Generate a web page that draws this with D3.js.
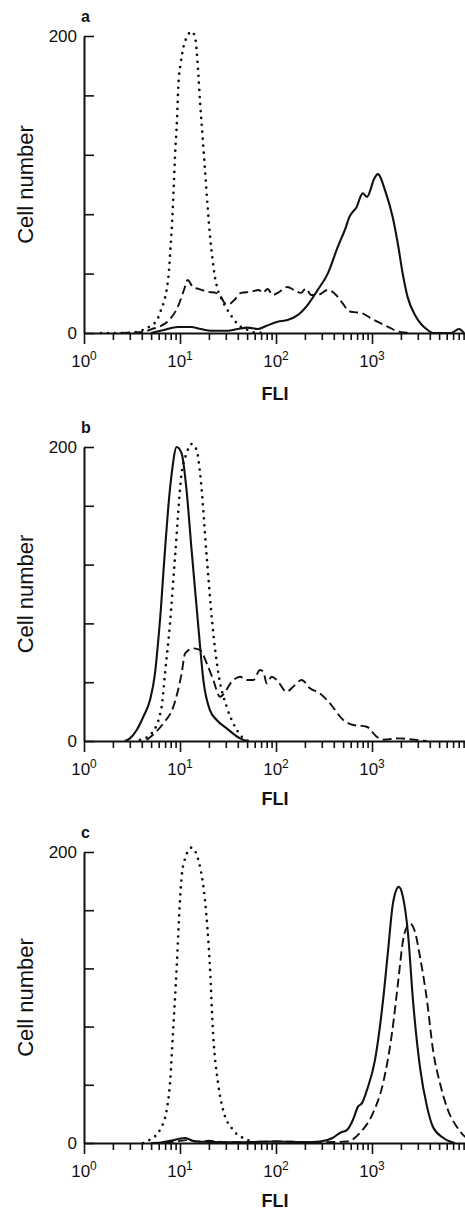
<!DOCTYPE html>
<html>
<head>
<meta charset="utf-8">
<script src="https://cdn.jsdelivr.net/npm/d3@7"></script>
<style>
  body { margin: 0; background: #fff; }
  svg { display: block; }
  text { font-family: "Liberation Sans", Arial, sans-serif; fill: #111; }
</style>
</head>
<body>
<svg id="chart" width="465" height="1211"></svg>
<script>
// values: [FLI, cell number]

// panel a
const aSolid = [[5.0,0],[6.8,2],[9.5,4],[13.0,4],[16.5,2.7],[21.0,1.5],[31.4,1.5],[39.9,2.7],[50.7,3.6],[64.4,2.7],[78.7,4.7],[104,7.6],[132,8.7],[168,12],[214,19],[272,29],[346,40],[440,58],[536,71.5],[580,78],[630,81.6],[681,84],[800,94],[887,91.7],[1057,104],[1146,107],[1400,94],[1644,78],[1853,60.6],[2088,40],[2355,24],[2873,11],[3802,2],[4318,0],[6653,0],[8054,2.7],[9087,0]];
const aDashed = [[2.4,0],[4.2,0.7],[5.0,2.5],[6.3,4.7],[7.7,8.7],[9.5,17.7],[11.0,29],[12.0,35.7],[13.6,31],[15.8,29.6],[19.4,27.8],[23.7,27],[26.7,24.4],[29.4,20],[32.4,19.5],[36.5,22],[43.2,27],[55,27.8],[66.5,29],[72.6,27],[81.9,29.6],[92.4,25.6],[104,27],[132,31],[154,29],[182,27],[205,30],[232,25.6],[272,25.6],[346,29],[402,27],[495,20],[558,15.5],[603,14.3],[768,13.5],[1050,8.7],[1469,4.2],[1905,0.9],[2547,0]];
const aDotted = [[1.5,0],[2.8,0],[4.1,2],[5.0,5],[5.8,9],[6.3,15],[6.8,21],[7.3,30],[7.7,43],[7.9,54],[8.3,76],[8.6,98],[8.9,121],[9.3,143],[9.6,166],[10.2,182],[10.9,193],[12.0,200],[13.0,203],[14.3,200],[15.0,188],[15.5,175],[16.2,155],[17.2,132],[18.2,110],[19.4,85],[20.7,63],[21.9,49],[22.8,40],[24.3,31],[27.5,22],[33.9,12],[41.2,5],[49,2.5],[57.5,0.5],[71,0]];

// panel b
const bSolid = [[2.67,0],[3.01,1.8],[3.54,7.5],[4.15,16.5],[4.87,27.9],[5.49,46],[5.94,68.7],[6.34,91],[6.70,114],[7.10,136.7],[7.55,159],[8.20,182],[9.24,200],[10.4,195.6],[11.7,170.7],[13.2,130],[14.9,91],[16.2,64],[17.5,41.5],[20.5,21],[24.1,14.3],[30.6,8.6],[42.2,1.8],[49.5,0]];
const bDashed = [[4.50,0.7],[6.70,12],[8.52,23.3],[10.4,46],[11.3,59.6],[13.8,63],[16.2,61.9],[19.0,52.8],[22.2,41.5],[26.1,30.1],[35.9,41.5],[42.2,43.7],[49.5,41.5],[58.1,41.5],[68.1,48.3],[73.8,47.1],[80.0,39.2],[90.2,43.7],[102,41.5],[129,33.5],[151,36.9],[185,41.5],[226,35.8],[287,32.4],[365,25.6],[502,14.3],[638,10.9],[881,9.7],[1119,2.9],[1312,0.9],[1950,1.8],[2489,1.2],[3715,0]];
const bDotted = [[3.83,0.7],[5.07,5.2],[6.44,23.3],[6.98,46],[7.87,80],[8.87,125],[10.4,182],[11.7,195.6],[13.2,202],[14.9,198],[16.2,182],[19.0,125],[21.7,80],[25.1,46],[30.6,23.3],[35.9,12],[44.0,2.9],[51.4,0]];

// panel c
const cSolid = [[6.0,0],[7.9,1.5],[11.3,3.4],[14.3,1],[20,0.8],[40,0.5],[100,1],[200,0.5],[287,1],[393,3.6],[464,7],[550,9],[634,16],[715,25],[787,27.4],[887,36.5],[1074,57],[1303,98],[1469,132],[1656,165],[1900,176],[2103,169],[2371,144],[2673,98],[3162,52],[3741,25],[4318,11],[5495,3.6],[6494,1],[7328,0]];
const cDashed = [[5,0],[9,1],[12,2],[16,1],[20,1.5],[30,0.5],[100,1],[300,0.5],[550,1],[750,7],[1023,20.6],[1303,41],[1616,75.6],[1866,110],[2103,139],[2371,150],[2489,151],[2805,145],[3162,128],[3741,98],[4318,64],[5108,41],[6166,22.8],[7674,11],[9333,4.3],[10000,3]];
const cDotted = [[4.12,0],[4.87,2.3],[6.19,9.1],[7.27,22.8],[7.87,41.3],[8.45,75.6],[9.24,121],[10.0,167],[10.7,189.5],[13.2,203],[16.2,189.5],[18.2,167],[20.5,121],[22.1,75.6],[24.9,41.3],[28.1,22.8],[35.6,9.1],[49.9,2.3],[63.4,0]];

// axes
const xMajor = [1, 10, 100, 1000];
const xExponents = ['0', '1', '2', '3'];
const yTicks = [0, 40, 80, 120, 160, 200];
const yTickLabels = { 0: '0', 200: '200' };
const panelLetters = ['a', 'b', 'c'];

const svg = d3.select('#chart');

const x = d3.scaleLog().domain([1, 10000]).range([84, 468]);
const xMinor = [];
xMajor.forEach(d => d3.range(2, 10).forEach(m => xMinor.push(d * m)));

const panels = [
  { top: 36,  base: 333,  fliY: 400, series: [aSolid, aDashed, aDotted] },
  { top: 447, base: 741,  fliY: 805, series: [bSolid, bDashed, bDotted] },
  { top: 852, base: 1143, fliY: 1207, series: [cSolid, cDashed, cDotted] }
];

const styles = [
  { width: 2.1, dash: null, cap: 'butt' },
  { width: 1.9, dash: '9,4.5', cap: 'butt' },
  { width: 2.7, dash: '0,7', cap: 'round' }
];

panels.forEach((p, i) => {
  const g = svg.append('g');
  const y = d3.scaleLinear().domain([0, 200]).range([p.base, p.top]);

  // curves
  const line = d3.line()
    .x(d => x(d[0]))
    .y(d => y(d[1]))
    .curve(d3.curveMonotoneX);

  p.series.forEach((s, k) => {
    g.append('path')
      .datum(s)
      .attr('d', line)
      .attr('fill', 'none')
      .attr('stroke', '#111')
      .attr('stroke-width', styles[k].width)
      .attr('stroke-dasharray', styles[k].dash)
      .attr('stroke-linecap', styles[k].cap)
      .attr('stroke-linejoin', 'round');
  });

  // x axis
  const xAxis = g.append('g')
    .attr('transform', `translate(0,${p.base})`)
    .call(d3.axisBottom(x)
      .tickValues(xMajor.concat(xMinor))
      .tickSize(7)
      .tickSizeOuter(0)
      .tickFormat(''));
  xAxis.select('.domain').attr('stroke', '#111').attr('stroke-width', 2);
  xAxis.selectAll('.tick line')
    .attr('stroke', '#111')
    .attr('stroke-width', 1.6)
    .attr('y2', d => xMajor.includes(d) ? 11 : 7);

  xMajor.forEach((v, j) => {
    const t = g.append('text')
      .attr('x', x(v))
      .attr('y', p.base + 34)
      .attr('text-anchor', 'middle')
      .style('font-size', '17px');
    t.append('tspan').text('10');
    t.append('tspan').attr('dy', -7).style('font-size', '12px').text(xExponents[j]);
  });

  g.append('text')
    .attr('x', 275)
    .attr('y', p.fliY)
    .attr('text-anchor', 'middle')
    .style('font-size', '18px')
    .style('font-weight', 'bold')
    .text('FLI');

  // y axis
  const yAxis = g.append('g')
    .attr('transform', 'translate(84,0)')
    .call(d3.axisLeft(y)
      .tickValues(yTicks)
      .tickSize(-10)
      .tickSizeOuter(0)
      .tickPadding(7)
      .tickFormat(d => yTickLabels[d] || ''));
  yAxis.select('.domain').attr('stroke', '#111').attr('stroke-width', 2);
  yAxis.selectAll('.tick line').attr('stroke', '#111').attr('stroke-width', 1.6);
  yAxis.selectAll('.tick text')
    .style('font-family', '"Liberation Sans", Arial, sans-serif')
    .style('font-size', '17px')
    .attr('fill', '#111');

  g.append('text')
    .attr('transform', `translate(33,${(p.top + p.base) / 2}) rotate(-90)`)
    .attr('text-anchor', 'middle')
    .style('font-size', '22px')
    .text('Cell number');

  g.append('text')
    .attr('x', 81)
    .attr('y', p.top - 14)
    .style('font-size', '16px')
    .style('font-weight', 'bold')
    .text(panelLetters[i]);
});
</script>
</body>
</html>
